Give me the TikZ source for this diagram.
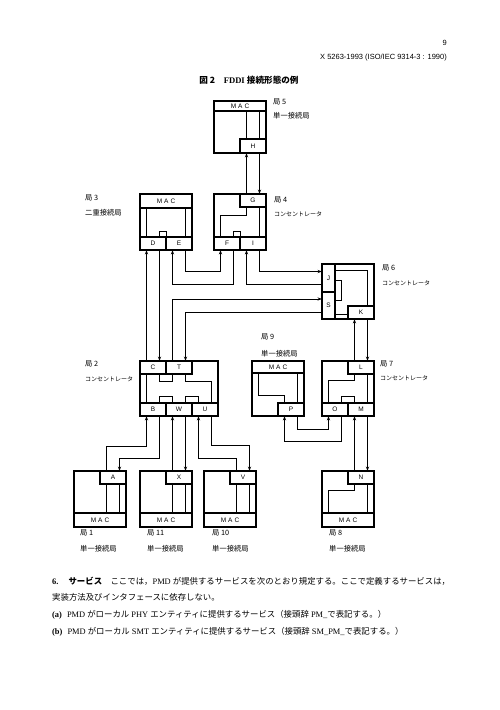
\documentclass[tikz,border=0pt]{standalone}
\usepackage{fontspec}
\setmainfont{Liberation Serif}
\newfontfamily\jp{Noto Sans CJK JP}
\newfontfamily\hv{Liberation Sans}
\usetikzlibrary{arrows.meta}
\newcommand{\macTxt}{M\hspace{2pt}A\hspace{2pt}C}
\begin{document}
\begin{tikzpicture}[x=1pt,y=-1pt,
 box/.style={draw, line width=1.1pt, inner sep=0pt, outer sep=0pt},
 stn/.style={box, minimum width=52pt, minimum height=56pt},
 port/.style={box, minimum width=26pt, minimum height=13pt, font=\hv\fontsize{6.5}{7}\selectfont},
 vport/.style={box, minimum width=13pt, font=\hv\fontsize{6.5}{7}\selectfont},
 macband/.style={box, minimum width=52pt, font=\hv\fontsize{6.5}{7}\selectfont},
 wire/.style={line width=0.9pt},
 arr/.style={wire, -{Stealth[length=4.5pt,width=3.2pt]}},
 lbl/.style={anchor=west, inner sep=0pt, font=\jp\fontsize{7.3}{8}\selectfont},
 klbl/.style={anchor=west, inner sep=0pt, font=\jp\fontsize{6}{7}\selectfont},
 ft/.style={anchor=base west, inner sep=0pt, font=\fontsize{8.4}{10}\selectfont}
]
\useasboundingbox (0,0) rectangle (500,710);

% header
\node[anchor=base east, inner sep=0pt, font=\hv\fontsize{7.5}{9}\selectfont] (pg) at (447,45) {9};
\node[anchor=base east, inner sep=0pt, font=\hv\fontsize{7.5}{9}\selectfont] (std) at (447,59) {X 5263-1993 (ISO/IEC 9314-3 : 1990)};
\node[inner sep=0pt, font=\fontsize{8.6}{10}\selectfont] (title) at (249,80) {{\jp\bfseries 図 2}\hspace{1em}\textbf{FDDI} {\jp\bfseries 接続形態の例}};

% ---------- station 5
\node[stn, minimum height=52pt] (s5) at (240,127) {};
\node[macband, minimum height=10pt] (mac5) at (240,106) {\macTxt};
\node[port, minimum height=14pt] (H) at (253,146) {H};
\draw[wire] ([xshift=-6.5pt]H.north) -- ++(0,-28);
\draw[wire] ([xshift=6.5pt]H.north) -- ++(0,-28);
\node[lbl] (l5a) at (273,102) {局 5};
\node[lbl] (l5b) at (273,116) {単一接続局};

% ---------- station 4
\node[stn] (s4) at (240,222) {};
\node[port] (G) at (253,200.5) {G};
\node[port] (F) at (227,243.5) {F};
\node[port] (I) at (253,243.5) {I};
\draw[wire] ([xshift=-6.5pt]G.south) -- ++(0,8.7) -| ([xshift=-6.5pt]F.north);
\draw[wire] ([xshift=6.5pt]G.south) -- ([xshift=6.5pt]I.north);
\draw[wire] ([xshift=6.5pt]F.north) -- ++(0,-5.5) -| (F.north east);
\node[lbl] (l4a) at (274,200) {局 4};
\node[klbl] (l4b) at (274,214) {コンセントレータ};

% ---------- station 3
\node[stn] (s3) at (166,222) {};
\node[macband, minimum height=14pt] (mac3) at (166,201) {\macTxt};
\node[port] (D) at (153,243.5) {D};
\node[port] (E) at (179,243.5) {E};
\draw[wire] ([xshift=-6.5pt]D.north) -- ++(0,-29);
\draw[wire] ([xshift=6.5pt]E.north) -- ++(0,-29);
\draw[wire] ([xshift=6.5pt]D.north) -- ++(0,-5.5) -| (D.north east);
\node[lbl] (l3a) at (85,198) {局 3};
\node[lbl] (l3b) at (85,213) {二重接続局};

% ---------- station 6
\node[stn, minimum height=55pt] (s6) at (348,291.5) {};
\node[vport, minimum height=28pt] (J) at (328.5,278) {J};
\node[vport, minimum height=27pt] (S) at (328.5,305.5) {S};
\node[port] (K) at (361,312.5) {K};
\draw[wire] ([yshift=8pt]J.east) -| ([xshift=6.5pt]K.north);
\draw[wire] ([yshift=-2.7pt]J.east) -- ++(6.7,0) |- ([yshift=5.5pt]S.east);
\draw[wire] ([yshift=-8.5pt]S.east) -- ++(13,0);
\node[lbl] (l6a) at (382,268) {局 6};
\node[klbl] (l6b) at (382,283) {コンセントレータ};

% ---------- station 2
\node[stn, minimum width=78pt, minimum height=55pt] (s2) at (179,388.5) {};
\node[port] (C) at (153,367.5) {C};
\node[port] (T) at (179,367.5) {T};
\node[port] (B) at (153,409.5) {B};
\node[port] (W) at (179,409.5) {W};
\node[port] (U) at (205,409.5) {U};
\draw[wire] ([xshift=-6.5pt]C.south) -- ([xshift=-6.5pt]B.north);
\draw[wire] ([xshift=6.5pt]C.south) -- ++(0,7.5) -| ([xshift=-6.5pt]T.south);
\draw[wire] ([xshift=6.5pt]T.south) -- ++(0,7.5) -| ([xshift=6.5pt]U.north);
\draw[wire] ([xshift=6.5pt]B.north) -- ++(0,-6.3) -| ([xshift=-6.5pt]W.north);
\draw[wire] ([xshift=6.5pt]W.north) -- ++(0,-6.3) -| ([xshift=-6.5pt]U.north);
\node[lbl] (l2a) at (85,364) {局 2};
\node[klbl] (l2b) at (85,379) {コンセントレータ};

% ---------- station 9
\node[stn, minimum height=55pt] (s9) at (278,388.5) {};
\node[macband, minimum height=12pt] (mac9) at (278,367) {\macTxt};
\node[port] (P) at (291,409.5) {P};
\draw[wire] ([xshift=-19.7pt]mac9.south) -- ++(0,22.7) -| ([xshift=-6.5pt]P.north);
\draw[wire] ([xshift=6.5pt]P.north) -- ++(0,-30);
\node[lbl] (l9a) at (261,337) {局 9};
\node[lbl] (l9b) at (261,354) {単一接続局};

% ---------- station 7
\node[stn, minimum height=55pt] (s7) at (348,388.5) {};
\node[port] (L) at (361,367.5) {L};
\node[port] (O) at (335,409.5) {O};
\node[port] (M) at (361,409.5) {M};
\draw[wire] ([xshift=-6.5pt]L.south) -- ++(0,6) -| ([xshift=-6.5pt]O.north);
\draw[wire] ([xshift=6.5pt]L.south) -- ([xshift=6.5pt]M.north);
\draw[wire] ([xshift=6.5pt]O.north) -- ++(0,-6.3) -| ([xshift=-6.5pt]M.north);
\node[lbl] (l7a) at (380,364) {局 7};
\node[klbl] (l7b) at (380,378) {コンセントレータ};

% ---------- bottom stations
\node[stn] (s1) at (100,499) {};
\node[port] (A) at (113,477.5) {A};
\node[macband, minimum height=14pt] (mac1) at (100,520) {\macTxt};
\node[stn] (s11) at (166,499) {};
\node[port] (X) at (179,477.5) {X};
\node[macband, minimum height=14pt] (mac11) at (166,520) {\macTxt};
\node[stn] (s10) at (230,499) {};
\node[port] (V) at (243,477.5) {V};
\node[macband, minimum height=14pt] (mac10) at (230,520) {\macTxt};
\node[stn] (s8) at (348,499) {};
\node[port] (N) at (361,477.5) {N};
\node[macband, minimum height=14pt] (mac8) at (348,520) {\macTxt};
\foreach \p in {A,X,V}{
  \draw[wire] ([xshift=-6.5pt]\p.south) -- ++(0,29);
  \draw[wire] ([xshift=6.5pt]\p.south) -- ++(0,29);
}
\draw[wire] ([xshift=-6.5pt]N.south) -- ++(0,6.7) -| ([xshift=-19.5pt]mac8.north);
\draw[wire] ([xshift=6.5pt]N.south) -- ++(0,28);
\node[lbl] (l1a) at (80,533) {局 1};
\node[lbl] (l1b) at (80,549) {単一接続局};
\node[lbl] (l11a) at (147,533) {局 11};
\node[lbl] (l11b) at (147,549) {単一接続局};
\node[lbl] (l10a) at (212,533) {局 10};
\node[lbl] (l10b) at (212,549) {単一接続局};
\node[lbl] (l8a) at (329,533) {局 8};
\node[lbl] (l8b) at (329,549) {単一接続局};

% ---------- connectors
\draw[arr] ([xshift=-6.5pt]G.north) -- ([xshift=-6.5pt]H.south);
\draw[arr] ([xshift=6.5pt]H.south) -- ([xshift=6.5pt]G.north);
\draw[arr] ([xshift=-6.5pt]C.north) -- ([xshift=-6.5pt]D.south);
\draw[arr] ([xshift=6.5pt]D.south) -- ([xshift=6.5pt]C.north);
\draw[arr] ([xshift=6.5pt]E.south) -- ++(0,21.5) -| ([xshift=-6.5pt]F.south);
\draw[arr] ([xshift=6.5pt]F.south) -- ++(0,34.5) -| ([xshift=-6.5pt]E.south);
\draw[arr] ([xshift=6.5pt]I.south) |- ([yshift=6.5pt]J.west);
\draw[arr] ([yshift=-6.5pt]J.west) -| ([xshift=-6.5pt]I.south);
\draw[arr] ([xshift=-6.5pt]T.north) |- ([yshift=6.5pt]S.west);
\draw[arr] ([yshift=-6.5pt]S.west) -| ([xshift=6.5pt]T.north);
\draw[arr] ([xshift=-6.5pt]L.north) -- ([xshift=-6.5pt]K.south);
\draw[arr] ([xshift=6.5pt]K.south) -- ([xshift=6.5pt]L.north);
\draw[arr] ([xshift=-6.5pt]N.north) -- ([xshift=-6.5pt]M.south);
\draw[arr] ([xshift=6.5pt]M.south) -- ([xshift=6.5pt]N.north);
\draw[arr] ([xshift=6.5pt]P.south) -- ++(0,13.3) -| ([xshift=-6.5pt]O.south);
\draw[arr] ([xshift=6.5pt]O.south) -- ++(0,25) -| ([xshift=-6.5pt]P.south);
\draw[arr] ([xshift=-6.5pt]A.north) -- ++(0,-24.3) -| ([xshift=-6.5pt]B.south);
\draw[arr] ([xshift=6.5pt]B.south) -- ++(0,42.3) -| ([xshift=6.5pt]A.north);
\draw[arr] ([xshift=-6.5pt]X.north) -- ([xshift=-6.5pt]W.south);
\draw[arr] ([xshift=6.5pt]W.south) -- ([xshift=6.5pt]X.north);
\draw[arr] ([xshift=6.5pt]U.south) -- ++(0,29) -| ([xshift=6.5pt]V.north);
\draw[arr] ([xshift=-6.5pt]V.north) -- ++(0,-12.7) -| ([xshift=-6.5pt]U.south);

% ---------- footer text
\node[ft] (f1) at (52,584) {\textbf{6.}\hspace{1.2em}{\jp\bfseries サービス}\hspace{1em}{\jp ここでは，}PMD {\jp が提供するサービスを次のとおり規定する。ここで定義するサービスは，}};
\node[ft] (f2) at (52,600) {{\jp 実装方法及びインタフェースに依存しない。}};
\node[ft] (f3) at (52,617) {\textbf{(a)}\hspace{0.6em}PMD {\jp がローカル} PHY {\jp エンティティに提供するサービス（接頭辞} PM\_{\jp で表記する。）}};
\node[ft] (f4) at (52,634) {\textbf{(b)}\hspace{0.6em}PMD {\jp がローカル} SMT {\jp エンティティに提供するサービス（接頭辞} SM\_PM\_{\jp で表記する。）}};
\end{tikzpicture}
\end{document}
